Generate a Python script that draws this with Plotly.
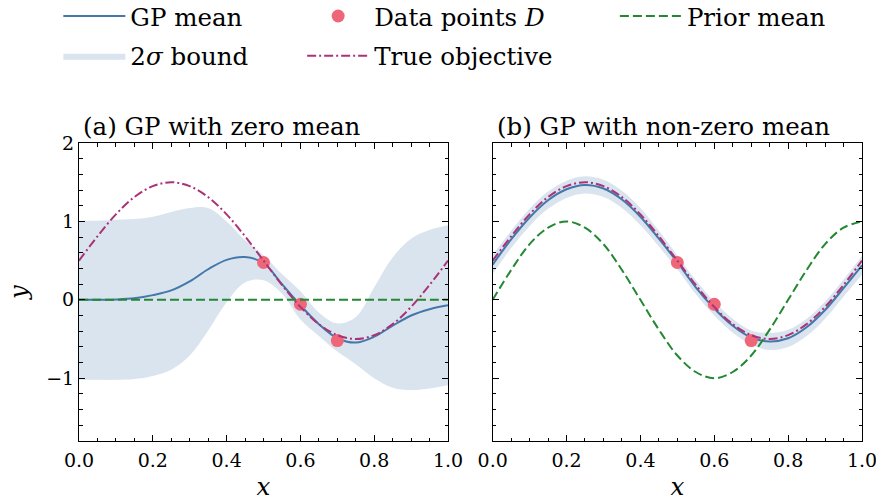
import plotly.graph_objects as go

# ---------------- data ----------------
x_grid = [0.00, 0.05, 0.10, 0.15, 0.20, 0.25, 0.30, 0.35, 0.40, 0.45, 0.50,
          0.55, 0.60, 0.65, 0.70, 0.75, 0.80, 0.85, 0.90, 0.95, 1.00]

true_objective = [0.50, 0.81, 1.09, 1.31, 1.45, 1.50, 1.45, 1.31, 1.09, 0.81, 0.50,
                  0.19, -0.09, -0.31, -0.45, -0.50, -0.45, -0.31, -0.09, 0.19, 0.50]

# (a) zero-mean GP
mean_a = [0.00, 0.00, 0.005, 0.02, 0.06, 0.12, 0.235, 0.39, 0.51, 0.545, 0.47,
          0.20, -0.07, -0.31, -0.49, -0.545, -0.47, -0.33, -0.20, -0.12, -0.07]
upper_a = [1.01, 1.01, 1.02, 1.03, 1.06, 1.12, 1.17, 1.17, 1.00, 0.76, 0.57,
           0.33, 0.11, -0.16, -0.30, -0.22, 0.16, 0.54, 0.78, 0.89, 0.95]
lower_a = [-1.02, -1.02, -1.02, -1.01, -0.97, -0.89, -0.71, -0.39, -0.03, 0.22, 0.25,
           0.08, -0.25, -0.46, -0.66, -0.82, -1.00, -1.12, -1.15, -1.13, -1.09]
prior_a = [0.0] * 21

# (b) GP with non-zero prior mean
mean_b = [0.45, 0.77, 1.05, 1.27, 1.41, 1.465, 1.42, 1.28, 1.06, 0.78, 0.48,
          0.16, -0.11, -0.33, -0.48, -0.53, -0.49, -0.35, -0.13, 0.15, 0.44]
two_sigma_b = [0.12, 0.11, 0.11, 0.11, 0.11, 0.11, 0.11, 0.11, 0.11, 0.10, 0.09,
               0.09, 0.09, 0.09, 0.09, 0.11, 0.11, 0.11, 0.11, 0.11, 0.12]
prior_b = [0.00, 0.38, 0.71, 0.92, 1.00, 0.92, 0.71, 0.38, 0.00, -0.38, -0.71,
           -0.92, -1.00, -0.92, -0.71, -0.38, 0.00, 0.38, 0.71, 0.92, 1.00]

data_x = [0.5, 0.6, 0.7]
data_y = [0.476, -0.056, -0.52]

x_ticks = [0.0, 0.2, 0.4, 0.6, 0.8, 1.0]
y_ticks = [-1, 0, 1, 2]
titles = ["(a) GP with zero mean", "(b) GP with non-zero mean"]

# ---------------- style ----------------
BLUE = "#4477AA"
BAND = "rgba(68,119,170,0.2)"
RED = "#EE6677"
PURPLE = "#AA3377"
GREEN = "#228833"
FONT = "DejaVu Serif"
TXT = 24.5
TICK = 19

upper_b = [m + s for m, s in zip(mean_b, two_sigma_b)]
lower_b = [m - s for m, s in zip(mean_b, two_sigma_b)]

fig = go.Figure()

panels = [
    ("x", "y", mean_a, upper_a, lower_a, prior_a, True),
    ("x2", "y2", mean_b, upper_b, lower_b, prior_b, False),
]

for xa, ya, mean, up, lo, prior, show in panels:
    fig.add_trace(go.Scatter(x=x_grid, y=lo, xaxis=xa, yaxis=ya, mode="lines",
                             line=dict(width=0, shape="spline"), showlegend=False,
                             legendgroup="band", legend="legend", hoverinfo="skip"))
    fig.add_trace(go.Scatter(x=x_grid, y=up, xaxis=xa, yaxis=ya, mode="lines",
                             line=dict(width=0, shape="spline"), fill="tonexty",
                             fillcolor=BAND, name="2<i>σ</i> bound", showlegend=show,
                             legendgroup="band", legend="legend", legendrank=2))
    fig.add_trace(go.Scatter(x=x_grid, y=mean, xaxis=xa, yaxis=ya, mode="lines",
                             line=dict(color=BLUE, width=2, shape="spline"),
                             name="GP mean", showlegend=show, legendgroup="mean",
                             legend="legend", legendrank=1))
    fig.add_trace(go.Scatter(x=data_x, y=data_y, xaxis=xa, yaxis=ya, mode="markers",
                             marker=dict(color=RED, size=13),
                             name="Data points <i>D</i>", showlegend=show,
                             legendgroup="data", legend="legend2", legendrank=1))
    fig.add_trace(go.Scatter(x=x_grid, y=true_objective, xaxis=xa, yaxis=ya, mode="lines",
                             line=dict(color=PURPLE, width=2, shape="spline",
                                       dash="9px,3px,2px,3px"),
                             name="True objective", showlegend=show, legendgroup="true",
                             legend="legend2", legendrank=2))
    fig.add_trace(go.Scatter(x=x_grid, y=prior, xaxis=xa, yaxis=ya, mode="lines",
                             line=dict(color=GREEN, width=2, shape="spline",
                                       dash="9px,4px"),
                             name="Prior mean", showlegend=show, legendgroup="prior",
                             legend="legend3", legendrank=1))

axis_common = dict(
    showline=True, linecolor="black", linewidth=1, mirror="allticks",
    ticks="inside", ticklen=6, tickwidth=1, tickcolor="black",
    showgrid=False, zeroline=False, automargin=False, ticklabeloverflow="allow",
    tickfont=dict(family=FONT, size=TICK, color="black"),
)

x_common = dict(axis_common, range=[0, 1], tickvals=x_ticks, tickformat=".1f",
                ticklabelstandoff=2,
                minor=dict(dtick=0.05, ticks="inside", ticklen=3.5, tickcolor="black",
                           showgrid=False))
y_common = dict(axis_common, range=[-1.8, 2], tickvals=y_ticks,
                minor=dict(dtick=0.2, tick0=0, ticks="inside", ticklen=3.5,
                           tickcolor="black", showgrid=False))

title_font = dict(family=FONT, size=TXT, color="black")

fig.update_layout(
    width=876, height=501,
    margin=dict(l=79, r=14, t=143, b=60, autoexpand=False),
    plot_bgcolor="white", paper_bgcolor="white",
    font=dict(family=FONT, size=TXT, color="black"),
    xaxis=dict(x_common, domain=[0, 0.4713],
               title=dict(text="<i>x</i>", font=title_font, standoff=12)),
    xaxis2=dict(x_common, domain=[0.5283, 1], anchor="y2",
                title=dict(text="<i>x</i>", font=title_font, standoff=12)),
    yaxis=dict(y_common, title=dict(text="<i>y</i>", font=title_font, standoff=11)),
    yaxis2=dict(y_common, anchor="x2", matches="y", showticklabels=False),
    showlegend=True,
)

legend_common = dict(orientation="v", xanchor="left", yanchor="top",
                     bgcolor="rgba(0,0,0,0)", borderwidth=0, itemwidth=62,
                     traceorder="grouped", tracegroupgap=5,
                     font=dict(family=FONT, size=TXT, color="black"),
                     itemclick=False, itemdoubleclick=False)
fig.update_layout(
    legend=dict(legend_common, x=-0.0264, y=1.5015),
    legend2=dict(legend_common, x=0.2850, y=1.5015),
    legend3=dict(legend_common, x=0.6844, y=1.5015),
)

for i, t in enumerate(titles):
    fig.add_annotation(text=t, xref=("x domain" if i == 0 else "x2 domain"),
                       yref="y domain", x=0.005, y=1.0, xanchor="left",
                       yanchor="bottom", showarrow=False, font=title_font)

fig.write_html("out.html")
